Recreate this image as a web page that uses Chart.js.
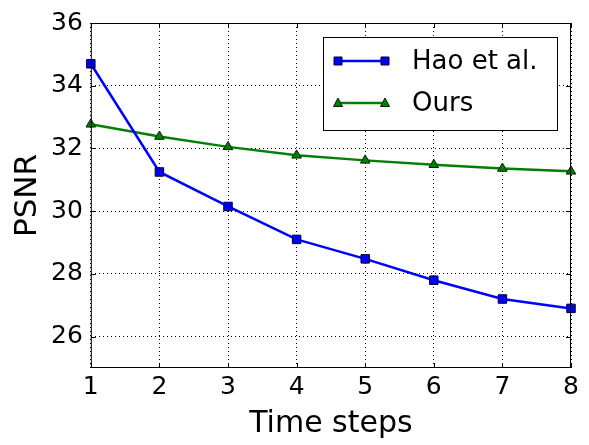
<!DOCTYPE html>
<html>
<head>
<meta charset="utf-8">
<script src="https://cdn.jsdelivr.net/npm/chart.js@4/dist/chart.umd.min.js"></script>
<style>
  html, body { margin: 0; padding: 0; background: #fff; }
  #wrap { width: 589px; height: 445px; }
</style>
</head>
<body>
<div id="wrap"><canvas id="grafica"></canvas></div>
<script>
const timeSteps = [1, 2, 3, 4, 5, 6, 7, 8];
const haoEtAl = [34.7, 31.25, 30.15, 29.1, 28.48, 27.8, 27.2, 26.9];
const ours = [32.77, 32.38, 32.05, 31.78, 31.62, 31.48, 31.36, 31.27];
const yTicks = [26, 28, 30, 32, 34, 36];

const fontFam = '"DejaVu Sans", sans-serif';

const frameAndLegend = {
    id: 'frameAndLegend',
    afterDatasetsDraw(chart) {
        const ctx = chart.ctx;
        const a = chart.chartArea;
        const xs = chart.scales.x, ys = chart.scales.y;
        ctx.save();
        // marco
        ctx.strokeStyle = '#000';
        ctx.lineWidth = 1;
        ctx.strokeRect(a.left + 0.5, a.top + 0.5, a.right - a.left - 1, a.bottom - a.top - 1);
        // ticks hacia adentro
        ctx.beginPath();
        xs.ticks.forEach(t => {
            const px = Math.round(xs.getPixelForValue(t.value)) + 0.5;
            ctx.moveTo(px, a.bottom); ctx.lineTo(px, a.bottom - 5);
            ctx.moveTo(px, a.top); ctx.lineTo(px, a.top + 5);
        });
        ys.ticks.forEach(t => {
            const py = Math.round(ys.getPixelForValue(t.value)) + 0.5;
            ctx.moveTo(a.left, py); ctx.lineTo(a.left + 5, py);
            ctx.moveTo(a.right, py); ctx.lineTo(a.right - 5, py);
        });
        ctx.stroke();

        // leyenda dentro del area
        const bx = 323, by = 37, bw = 234, bh = 93;
        ctx.fillStyle = '#fff';
        ctx.fillRect(bx, by, bw, bh);
        ctx.strokeRect(bx + 0.5, by + 0.5, bw, bh);
        ctx.font = '26px ' + fontFam;
        ctx.textBaseline = 'middle';
        chart.data.datasets.forEach((ds, i) => {
            const y = by + 24 + i * 42;
            const x1 = bx + 15, x2 = bx + 62;
            ctx.strokeStyle = ds.borderColor;
            ctx.lineWidth = ds.borderWidth;
            ctx.beginPath(); ctx.moveTo(x1, y); ctx.lineTo(x2, y); ctx.stroke();
            [x1, x2].forEach(px => {
                ctx.fillStyle = ds.pointBackgroundColor;
                ctx.strokeStyle = ds.pointBorderColor;
                ctx.lineWidth = ds.pointBorderWidth;
                ctx.beginPath();
                if (ds.pointStyle === 'rect') {
                    ctx.rect(px - 4, y - 4, 8, 8);
                } else {
                    ctx.moveTo(px, y - 5); ctx.lineTo(px + 4.5, y + 3.5); ctx.lineTo(px - 4.5, y + 3.5); ctx.closePath();
                }
                ctx.fill(); ctx.stroke();
            });
            ctx.fillStyle = '#000';
            ctx.fillText(ds.label, bx + 89, y + 1);
        });
        ctx.restore();
    }
};

const graficaPSNR = new Chart(document.getElementById('grafica').getContext('2d'), {
    type: 'line',
    data: {
        datasets: [{
            label: 'Hao et al.',
            data: timeSteps.map((t, i) => ({ x: t, y: haoEtAl[i] })),
            borderColor: '#0000ff',
            borderWidth: 2.5,
            pointStyle: 'rect',
            pointRadius: 6,
            pointBackgroundColor: '#0000ff',
            pointBorderColor: '#000033',
            pointBorderWidth: 1,
            tension: 0
        }, {
            label: 'Ours',
            data: timeSteps.map((t, i) => ({ x: t, y: ours[i] })),
            borderColor: '#008000',
            borderWidth: 2.5,
            pointStyle: 'triangle',
            pointRadius: 5.5,
            pointBackgroundColor: '#008000',
            pointBorderColor: '#002000',
            pointBorderWidth: 1,
            tension: 0
        }]
    },
    options: {
        responsive: true,
        maintainAspectRatio: false,
        animation: false,
        clip: false,
        layout: { padding: { top: 12, right: 18, left: 12, bottom: 3 } },
        scales: {
            x: {
                type: 'linear',
                min: 1,
                max: 8,
                ticks: { stepSize: 1, color: '#000', font: { family: fontFam, size: 25 }, padding: 4, maxRotation: 0 },
                grid: { color: '#000', lineWidth: 1, drawTicks: false },
                border: { display: false, dash: [1, 3] },
                title: { display: true, text: 'Time steps', color: '#000', font: { family: fontFam, size: 30 }, padding: { top: 0, bottom: 0 } }
            },
            y: {
                min: 25,
                max: 36,
                afterBuildTicks: (scale) => { scale.ticks = yTicks.map(v => ({ value: v })); },
                ticks: { color: '#000', font: { family: fontFam, size: 25 }, padding: 8 },
                grid: { color: '#000', lineWidth: 1, drawTicks: false },
                border: { display: false, dash: [1, 3] },
                title: { display: true, text: 'PSNR', color: '#000', font: { family: fontFam, size: 31, lineHeight: 1 }, padding: { top: 0, bottom: 0 } }
            }
        },
        plugins: {
            legend: { display: false },
            title: { display: false },
            tooltip: { enabled: false }
        }
    },
    plugins: [frameAndLegend]
});
</script>
</body>
</html>
